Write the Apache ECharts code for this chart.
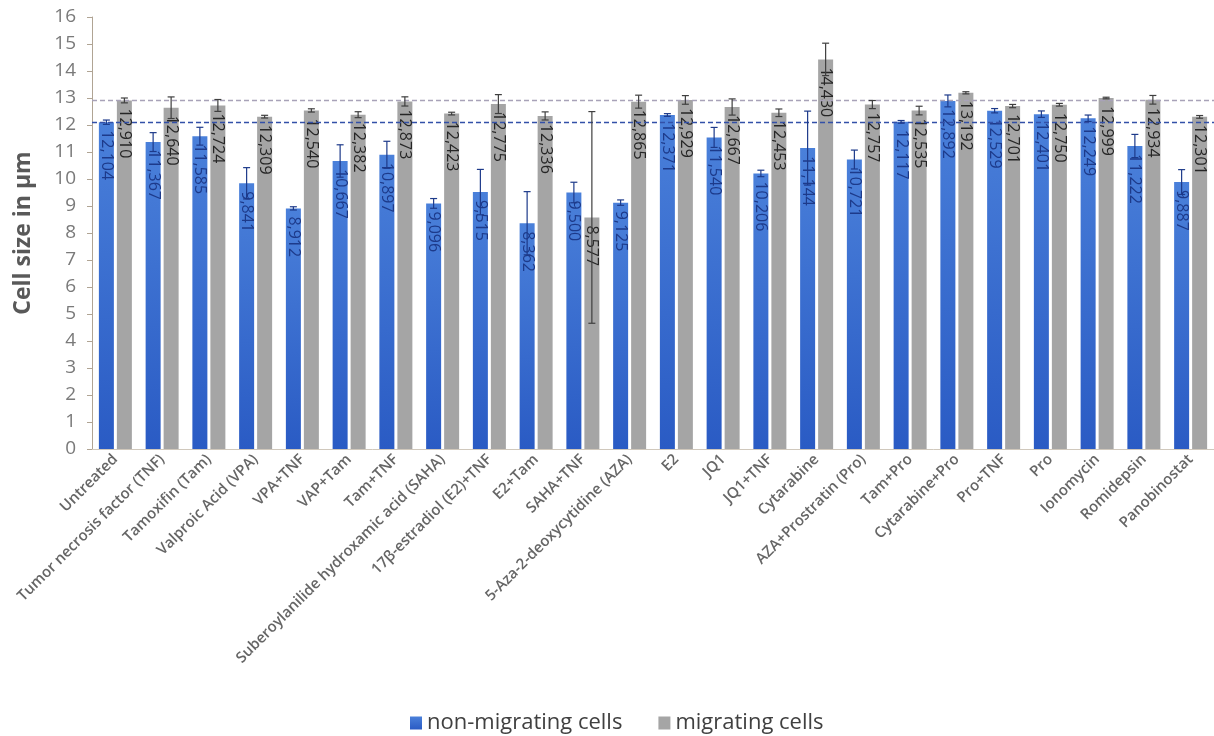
<!DOCTYPE html>
<html>
<head>
<meta charset="utf-8">
<script src="https://cdn.jsdelivr.net/npm/echarts@6/dist/echarts.min.js"></script>
<style>
    html, body { margin: 0; padding: 0; background: #fff; }
    #main { width: 1214px; height: 736px; }
</style>
</head>
<body>
<div id="main"></div>
<script>
var categories = ['Untreated', 'Tumor necrosis factor (TNF)', 'Tamoxifin (Tam)', 'Valproic Acid (VPA)',
    'VPA+TNF', 'VAP+Tam', 'Tam+TNF', 'Suberoylanilide hydroxamic acid (SAHA)', '17β-estradiol (E2)+TNF',
    'E2+Tam', 'SAHA+TNF', '5-Aza-2-deoxycytidine (AZA)', 'E2', 'JQ1', 'JQ1+TNF', 'Cytarabine',
    'AZA+Prostratin (Pro)', 'Tam+Pro', 'Cytarabine+Pro', 'Pro+TNF', 'Pro', 'Ionomycin', 'Romidepsin', 'Panobinostat'];

// non-migrating cells
var nonMigrating = [12.104, 11.367, 11.585, 9.841, 8.912, 10.667, 10.897, 9.096, 9.515, 8.362, 9.500, 9.125,
    12.371, 11.540, 10.206, 11.144, 10.721, 12.117, 12.892, 12.529, 12.401, 12.249, 11.222, 9.887];
var nonMigratingErr = [0.08, 0.35, 0.33, 0.58, 0.06, 0.6, 0.5, 0.18, 0.84, 1.17, 0.38, 0.1,
    0.05, 0.37, 0.12, 1.37, 0.35, 0.05, 0.22, 0.08, 0.12, 0.12, 0.43, 0.46];

// migrating cells
var migrating = [12.910, 12.640, 12.724, 12.309, 12.540, 12.382, 12.873, 12.423, 12.775, 12.336, 8.577, 12.865,
    12.929, 12.667, 12.453, 14.430, 12.757, 12.535, 13.192, 12.701, 12.750, 12.999, 12.934, 12.301];
var migratingErr = [0.09, 0.4, 0.22, 0.05, 0.06, 0.11, 0.17, 0.05, 0.35, 0.15, 3.92, 0.24,
    0.16, 0.3, 0.14, 0.6, 0.15, 0.16, 0.04, 0.06, 0.05, 0.03, 0.16, 0.05];

var FONT = '"Open Sans", sans-serif';

var chart = echarts.init(document.getElementById('main'));

function fmt(p) {
    return p.value.toFixed(3).replace('.', ',');
}

// error bars drawn with the axis scale
function errorBars(vals, errs, shift, color) {
    var data = vals.map(function(v, i) { return [i, v, errs[i]]; });
    return {
        type: 'custom',
        z: 5,
        silent: true,
        data: data,
        encode: { x: 0, y: 1 },
        renderItem: function(params, api) {
            var i = api.value(0), v = api.value(1), e = api.value(2);
            var hi = api.coord([i, v + e]);
            var lo = api.coord([i, v - e]);
            var x = hi[0] + shift;
            var st = { stroke: color, lineWidth: 1.2 };
            return {
                type: 'group',
                children: [
                    { type: 'line', shape: { x1: x, y1: hi[1], x2: x, y2: lo[1] }, style: st },
                    { type: 'line', shape: { x1: x - 3.5, y1: hi[1], x2: x + 3.5, y2: hi[1] }, style: st },
                    { type: 'line', shape: { x1: x - 3.5, y1: lo[1], x2: x + 3.5, y2: lo[1] }, style: st }
                ]
            };
        }
    };
}

function barLabel(color) {
    return {
        show: true,
        position: 'insideTop',
        distance: 8,
        rotate: -90,
        align: 'left',
        verticalAlign: 'middle',
        fontFamily: FONT,
        fontSize: 16,
        color: color,
        formatter: fmt
    };
}

var option = {
    backgroundColor: '#fff',
    animation: false,
    grid: {
        left: 92,
        right: -5,
        top: 17,
        bottom: 287
    },
    legend: {
        left: 405,
        top: 707,
        itemWidth: 12,
        itemHeight: 13,
        itemGap: 36,
        icon: 'rect',
        textStyle: { fontFamily: FONT, fontSize: 22, color: '#404040' },
        data: ['non-migrating cells', 'migrating cells']
    },
    xAxis: {
        type: 'category',
        data: categories,
        axisTick: { show: false },
        axisLine: { show: true, lineStyle: { color: '#d0c8bc' } },
        axisLabel: {
            interval: 0,
            rotate: 45,
            fontFamily: FONT,
            fontSize: 15,
            fontWeight: 600,
            color: '#666666',
            margin: 8
        }
    },
    yAxis: {
        type: 'value',
        min: 0,
        max: 16,
        interval: 1,
        name: 'Cell size in µm',
        nameLocation: 'middle',
        nameGap: 57,
        nameTextStyle: { fontFamily: FONT, fontSize: 23, fontWeight: 'bold', color: '#595959' },
        splitLine: { show: false },
        axisLine: { show: true, lineStyle: { color: '#b0a494' } },
        axisTick: { show: true, length: 5, lineStyle: { color: '#b0a494' } },
        axisLabel: { fontFamily: FONT, fontSize: 19, color: '#7a7a7a', margin: 16 }
    },
    series: [
        {
            name: 'non-migrating cells',
            type: 'bar',
            data: nonMigrating,
            barWidth: 15,
            barGap: '20%',
            itemStyle: {
                color: new echarts.graphic.LinearGradient(0, 0, 0, 1, [
                    { offset: 0, color: '#4a80da' },
                    { offset: 1, color: '#2a5bc4' }
                ])
            },
            label: barLabel('#1d3a8a'),
            markLine: {
                silent: true,
                symbol: 'none',
                label: { show: false },
                lineStyle: { color: '#3350a8', type: [5, 3], width: 1.3 },
                data: [{ yAxis: nonMigrating[0] }]
            }
        },
        {
            name: 'migrating cells',
            type: 'bar',
            data: migrating,
            barWidth: 15,
            itemStyle: { color: '#a5a5a5' },
            label: barLabel('#262626'),
            markLine: {
                silent: true,
                symbol: 'none',
                label: { show: false },
                lineStyle: { color: '#a8a2b8', type: [5, 3], width: 1.3 },
                data: [{ yAxis: migrating[0] }]
            }
        },
        errorBars(nonMigrating, nonMigratingErr, -9, '#1d3a8a'),
        errorBars(migrating, migratingErr, 9, '#3f3f3f')
    ]
};

chart.setOption(option);
</script>
</body>
</html>
